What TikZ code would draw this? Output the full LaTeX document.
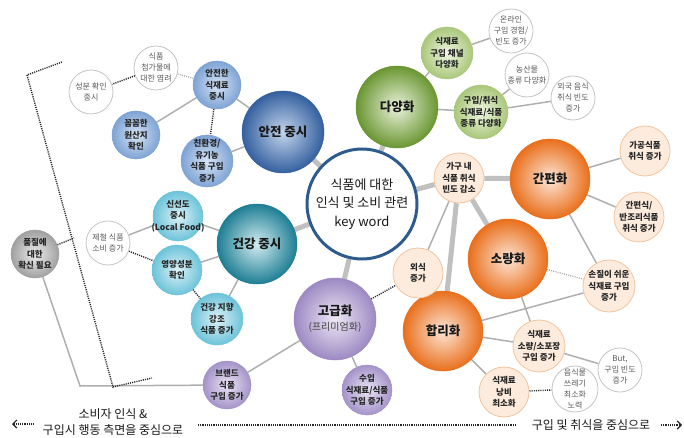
\documentclass[tikz,border=0pt]{standalone}
\usepackage{fontspec}
\newfontfamily\kr{Noto Sans CJK KR}
\usetikzlibrary{arrows.meta}
\pgfdeclarelayer{bg}
\pgfsetlayers{bg,main}
\definecolor{bigblueO}{HTML}{34609F}
\definecolor{bigblueI}{HTML}{C4D5EC}
\definecolor{greenO}{HTML}{6A9632}
\definecolor{greenI}{HTML}{EAF2DC}
\definecolor{orO}{HTML}{E96F1C}
\definecolor{orI}{HTML}{FDE6D6}
\definecolor{tealO}{HTML}{1E7E94}
\definecolor{tealI}{HTML}{D3ECF1}
\definecolor{purO}{HTML}{9C89C3}
\definecolor{purI}{HTML}{EEE8F5}
\definecolor{sblueO}{HTML}{7EA3D4}
\definecolor{sblueI}{HTML}{D6E4F5}
\definecolor{stealO}{HTML}{6CC3D9}
\definecolor{stealI}{HTML}{DDF2F7}
\definecolor{spurO}{HTML}{A493C9}
\definecolor{spurI}{HTML}{EBE4F4}
\definecolor{sgreenO}{HTML}{A9C77A}
\definecolor{sgreenI}{HTML}{F0F5E2}
\definecolor{peachF}{HTML}{FDEBDD}
\definecolor{peachD}{HTML}{F4C49E}
\definecolor{greyO}{HTML}{A0A0A0}
\definecolor{greyI}{HTML}{EDEDED}
\definecolor{ctrline}{HTML}{2D5B8B}
\definecolor{thickc}{HTML}{C0C0C0}
\definecolor{thinc}{HTML}{AFAFAF}
\definecolor{wline}{HTML}{C4C4C4}
\tikzset{
  base/.style={circle, inner sep=0pt, minimum size=2*#1pt},
  lbl/.style={font=\kr\bfseries\fontsize{8.5}{11.5}\selectfont, align=center, text=black!85, inner sep=0pt},
  wlbl/.style={font=\kr\fontsize{8}{11}\selectfont, align=center, text=black!65, inner sep=0pt},
  biglbl/.style={font=\kr\bfseries\fontsize{12.5}{15}\selectfont, align=center, text=black!90, inner sep=0pt},
  ctrlbl/.style={font=\kr\fontsize{13}{18.5}\selectfont, align=center, text=black!90, inner sep=0pt},
  btxt/.style={font=\kr\fontsize{12}{16}\selectfont, align=center, text=black!90, inner sep=0pt},
  bigblue/.style={base=#1, inner color=bigblueI, outer color=bigblueO, draw=bigblueO, line width=0.5pt},
  biggreen/.style={base=#1, inner color=greenI, outer color=greenO, draw=greenO, line width=0.5pt},
  bigor/.style={base=#1, inner color=orI, outer color=orO, draw=orO, line width=0.5pt},
  bigteal/.style={base=#1, inner color=tealI, outer color=tealO, draw=tealO, line width=0.5pt},
  bigpur/.style={base=#1, inner color=purI, outer color=purO, draw=purO, line width=0.5pt},
  sblue/.style={base=#1, inner color=sblueI, outer color=sblueO, draw=sblueO, line width=0.5pt},
  steal/.style={base=#1, inner color=stealI, outer color=stealO, draw=stealO, line width=0.5pt},
  spur/.style={base=#1, inner color=spurI, outer color=spurO, draw=spurO, line width=0.5pt},
  sgreen/.style={base=#1, inner color=sgreenI, outer color=sgreenO, draw=sgreenO, line width=0.5pt},
  sgrey/.style={base=#1, inner color=greyI, outer color=greyO, draw=greyO, line width=0.5pt},
  peach/.style={base=#1, fill=peachF, draw=peachD, line width=0.8pt},
  wnode/.style={base=#1, fill=white, draw=wline, line width=0.8pt},
  thk/.style={draw=thickc, line width=5pt},
  thn/.style={draw=thinc, line width=1.5pt},
  dotline/.style={draw=black!85, line width=1.4pt, dash pattern=on 1.1pt off 1.1pt},
  ldot/.style={draw=black!35, line width=1.2pt, dash pattern=on 1pt off 1.2pt},
}
\begin{document}
\begin{tikzpicture}[x=1pt,y=-1pt]
\useasboundingbox (0,0) rectangle (684,438);
% center
\node[base=55, fill=white, draw=ctrline, line width=3pt,
  label={[ctrlbl]center:{식품에 대한\\인식 및 소비 관련\\key word}}] (ctr) at (362,204) {};
% big nodes
\node[bigblue=41, label={[biglbl]center:{안전 중시}}] (anjeon) at (283,132) {};
\node[biggreen=41, label={[biglbl]center:{다양화}}] (dayang) at (397,107) {};
\node[bigor=40, label={[biglbl]center:{간편화}}] (ganpyeon) at (550,179) {};
\node[bigor=40, label={[biglbl]center:{소량화}}] (soryang) at (508,259) {};
\node[bigor=40, label={[biglbl]center:{합리화}}] (hapri) at (443,331) {};
\node[bigteal=40, label={[biglbl]center:{건강 중시}}] (geongang) at (257,244) {};
\node[bigpur=41, label={[biglbl]center:{고급화\\{\mdseries\fontsize{10}{12}\selectfont\color{black!75}(프리미엄화)}}}] (gogeup) at (335,319) {};
% safety group
\node[sblue=24, label={[lbl]center:{안전한\\식재료\\중시}}] (safe) at (217,85) {};
\node[sblue=24, label={[lbl]center:{꼼꼼한\\원산지\\확인}}] (origin) at (136,135) {};
\node[sblue=26, label={[lbl]center:{친환경/\\유기농\\식품 구입\\증가}}] (eco) at (207,161) {};
\node[wnode=22, label={[wlbl]center:{식품\\첨가물에\\대한 염려}}] (additive) at (156,68) {};
\node[wnode=22, label={[wlbl]center:{성분 확인\\중시}}] (ingred) at (91,92) {};
% health group
\node[steal=25, label={[lbl]center:{신선도\\중시\\(Local Food)}}] (fresh) at (178,216) {};
\node[steal=25, label={[lbl]center:{영양성분\\확인}}] (nutri) at (177,270) {};
\node[steal=26, label={[lbl]center:{건강 지향\\강조\\식품 증가}}] (health) at (217,319) {};
\node[wnode=22, label={[wlbl]center:{제철 식품\\소비 증가}}] (season) at (108,243) {};
\node[sgrey=24, label={[lbl]center:{품질에\\대한\\확신 필요}}] (quality) at (35,254) {};
% premium group
\node[spur=24, label={[lbl]center:{브랜드\\식품\\구입 증가}}] (brand) at (227,385) {};
\node[spur=25, label={[lbl]center:{수입\\식재료/식품\\구입 증가}}] (import) at (367,390) {};
% diversity group
\node[sgreen=26, label={[lbl]center:{식재료\\구입 채널\\다양화}}] (channel) at (447,53) {};
\node[sgreen=27, label={[lbl]center:{구입/취식\\식재료/식품\\종류 다양화}}] (kinds) at (481,112) {};
\node[wnode=22, label={[wlbl]center:{온라인\\구입 경험/\\빈도 증가}}] (online) at (511,31) {};
\node[wnode=22, label={[wlbl]center:{농산물\\종류 다양화}}] (agri) at (527,75) {};
\node[wnode=22, label={[wlbl]center:{외국 음식\\취식 빈도\\증가}}] (foreign) at (573,98) {};
% convenience group
\node[peach=25, label={[lbl]center:{가공식품\\취식 증가}}] (processed) at (645,151) {};
\node[peach=25, label={[lbl]center:{간편식/\\반조리식품\\취식 증가}}] (instant) at (639,217) {};
\node[peach=25, label={[lbl]center:{가구 내\\식품 취식\\빈도 감소}}] (home) at (459,178) {};
\node[peach=25, label={[lbl]center:{외식\\증가}}] (eatout) at (418,273) {};
\node[peach=26, label={[lbl]center:{손질이 쉬운\\식재료 구입\\증가}}] (easy) at (609,286) {};
\node[peach=26, label={[lbl]center:{식재료\\소량/소포장\\구입 증가}}] (smallpack) at (539,346) {};
\node[peach=25, label={[lbl]center:{식재료\\낭비\\최소화}}] (waste) at (504,392) {};
\node[wnode=23, label={[wlbl]center:{음식물\\쓰레기\\최소화\\노력}}] (foodwaste) at (575,389) {};
\node[wnode=22, label={[wlbl]center:{But,\\구입 빈도\\증가}}] (but) at (620,370) {};
% bottom texts
\node[btxt] (lefttxt) at (113,422) {소비자 인식 \&\\구입시 행동 측면을 중심으로};
\node[btxt] (righttxt) at (591,425) {구입 및 취식을 중심으로};
% coordinates
\coordinate (b1) at (62,62);
\coordinate (b2) at (27,75);
\coordinate (b3) at (113,387);
\coordinate (b4) at (152,378);
\coordinate (qb) at (74,238);
\coordinate (qc) at (80,386);
\coordinate (bl1) at (198,425);
\coordinate (bl2) at (516,425);
\coordinate (la1) at (12,424);
\coordinate (la2) at (34,424);
\coordinate (ra1) at (661,425);
\coordinate (ra2) at (682,425);
\begin{pgfonlayer}{bg}
% thick
\draw[thk] (ctr) -- (anjeon);
\draw[thk] (ctr) -- (dayang);
\draw[thk] (ctr) -- (geongang);
\draw[thk] (ctr) -- (gogeup);
\draw[thk] (ctr) -- (home);
\draw[thk] (home) -- (ganpyeon);
\draw[thk] (home) -- (soryang);
\draw[thk] (home) -- (hapri);
% thin
\draw[thn] (anjeon) -- (safe);
\draw[thn] (anjeon) -- (eco);
\draw[thn] (safe) -- (origin);
\draw[thn] (dayang) -- (channel);
\draw[thn] (dayang) -- (kinds);
\draw[thn] (channel) -- (online);
\draw[thn] (kinds) -- (agri);
\draw[thn] (kinds) -- (foreign);
\draw[thn] (geongang) -- (fresh);
\draw[thn] (geongang) -- (nutri);
\draw[thn] (geongang) -- (health);
\draw[thn] (fresh) -- (season);
\draw[thn] (gogeup) -- (brand);
\draw[thn] (gogeup) -- (import);
\draw[thn] (ganpyeon) -- (processed);
\draw[thn] (ganpyeon) -- (instant);
\draw[thn] (ganpyeon) -- (easy);
\draw[thn] (home) -- (eatout);
\draw[thn] (soryang) -- (smallpack);
\draw[thn] (hapri) -- (easy);
\draw[thn] (hapri) -- (smallpack);
\draw[thn] (hapri) -- (waste);
\draw[thn] (smallpack) -- (but);
\draw[thn] (quality) -- (qc) -- (brand);
% dotted
\draw[ldot] (additive) -- (safe);
\draw[dotline] (additive) -- (ingred);
\draw[dotline] (safe) -- (eco);
\draw[dotline] (season) -- (nutri);
\draw[dotline] (nutri) -- (health);
\draw[dotline] (gogeup) -- (eatout);
\draw[ldot] (soryang) -- (easy);
\draw[dotline] (waste) -- (foodwaste);
\draw[dotline] (b1) -- (b2) -- (b3) -- (b4);
\draw[dotline] (quality) -- (qb);
\draw[dotline] (bl1) -- (bl2);
\draw[dotline, {Straight Barb[length=4pt,width=8pt,line width=1.2pt]}-] (la1) -- (la2);
\draw[dotline, -{Straight Barb[length=4pt,width=8pt,line width=1.2pt]}] (ra1) -- (ra2);
\end{pgfonlayer}
\end{tikzpicture}
\end{document}
